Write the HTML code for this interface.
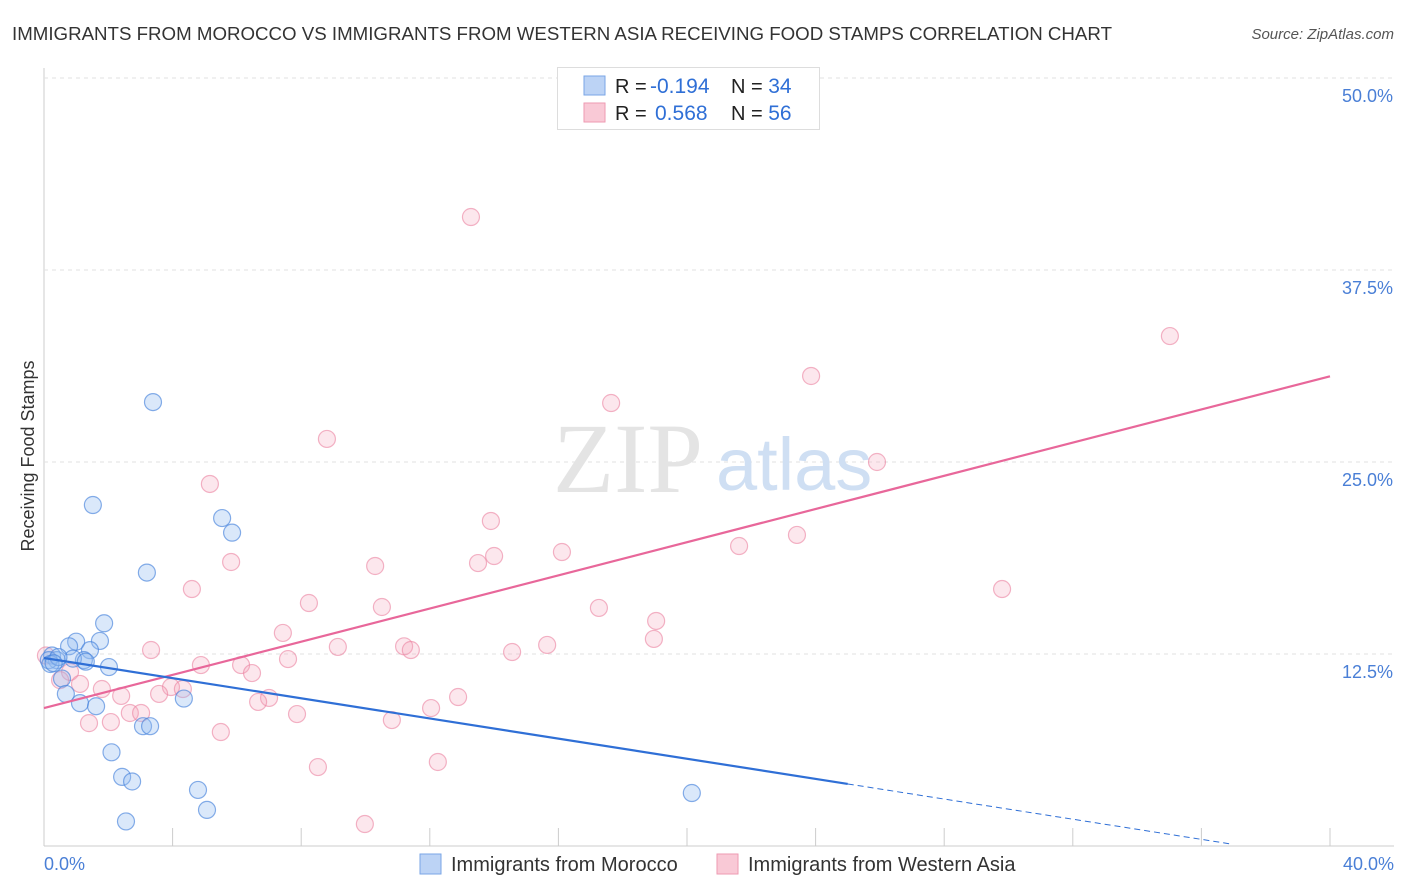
<!DOCTYPE html>
<html><head><meta charset="utf-8"><style>
body{margin:0;background:#fff;font-family:"Liberation Sans",sans-serif;}
svg{display:block}
</style></head><body>
<svg id="c" width="1406" height="892">
<text x="12" y="40" font-size="18" fill="#333" textLength="1100" lengthAdjust="spacingAndGlyphs">IMMIGRANTS FROM MOROCCO VS IMMIGRANTS FROM WESTERN ASIA RECEIVING FOOD STAMPS CORRELATION CHART</text>
<text x="1394" y="39" font-size="15" fill="#555" font-style="italic" text-anchor="end">Source: ZipAtlas.com</text>
<text x="0" y="0" font-size="18" fill="#333" text-anchor="middle" transform="translate(34,456) rotate(-90)">Receiving Food Stamps</text>
<g id="grid"></g>
<text x="553" y="492" font-size="100" fill="#e4e4e4" font-family="Liberation Serif,serif">ZIP</text>
<text x="716" y="490" font-size="74" fill="#cfdff3">atlas</text>
<g id="pts"></g>
<g id="lines"></g>
<g>
<rect x="557.5" y="67.5" width="262" height="62" fill="#fff" stroke="#ddd"/>
<rect x="584" y="76" width="21" height="19" fill="#bcd3f5" stroke="#7aa6e6"/>
<rect x="584" y="103" width="21" height="19" fill="#f9c9d6" stroke="#ee9ab2"/>
<text x="615" y="93" font-size="20" fill="#222">R = <tspan fill="#2f6fd6" x="650" font-size="21">-0.194</tspan><tspan x="731">N = </tspan><tspan fill="#2f6fd6" font-size="21">34</tspan></text>
<text x="615" y="120" font-size="20" fill="#222">R = <tspan fill="#2f6fd6" x="655" font-size="21">0.568</tspan><tspan x="731">N = </tspan><tspan fill="#2f6fd6" font-size="21">56</tspan></text>
</g>
<text x="44" y="870" font-size="18" fill="#4a7fd6">0.0%</text>
<text x="1394" y="870" font-size="18" fill="#4a7fd6" text-anchor="end">40.0%</text>
<g>
<rect x="420" y="854" width="21" height="20" fill="#bcd3f5" stroke="#7aa6e6"/>
<text x="451" y="871" font-size="20" fill="#333">Immigrants from Morocco</text>
<rect x="717" y="854" width="21" height="20" fill="#f9c9d6" stroke="#ee9ab2"/>
<text x="748" y="871" font-size="20" fill="#333">Immigrants from Western Asia</text>
</g>
</svg>
<script>
const yTicks=[12.5,25,37.5,50];
const yTickLabels=["12.5%","25.0%","37.5%","50.0%"];
const xTicks=[0,4,8,12,16,20,24,28,32,36,40];
const moroccoX=[3.39,1.52,5.54,5.85,3.2,1.87,1.0,1.74,0.78,1.43,0.25,0.4,1.24,2.02,0.56,0.68,1.12,1.62,4.35,3.08,3.3,2.1,2.43,2.74,4.79,5.07,2.55,20.15,0.15,0.2,0.9,0.45,1.3,0.3];
const moroccoY=[28.9,22.2,21.35,20.4,17.8,14.5,13.3,13.35,13.0,12.75,12.4,12.1,12.1,11.65,10.9,9.9,9.3,9.1,9.6,7.8,7.8,6.1,4.5,4.2,3.65,2.35,1.6,3.45,12.1,11.85,12.2,12.3,12.0,11.9];
const asiaX=[13.28,35.02,23.86,17.64,8.8,25.91,5.16,13.9,23.42,21.62,16.11,14.0,13.5,5.82,10.3,4.6,29.8,8.24,10.51,17.26,19.04,7.43,18.97,15.65,9.14,11.2,11.41,3.33,14.56,7.59,0.06,4.88,6.13,6.47,0.81,0.5,1.12,3.95,4.32,1.8,3.58,2.4,7.0,6.66,12.88,12.04,2.67,3.02,7.87,1.4,2.08,10.82,5.5,8.52,12.25,9.98];
const asiaY=[40.95,33.2,30.6,28.84,26.5,25.0,23.57,21.16,20.25,19.53,19.14,18.88,18.42,18.49,18.23,16.73,16.73,15.82,15.56,15.5,14.65,13.87,13.48,13.09,12.96,13.0,12.76,12.76,12.63,12.17,12.4,11.78,11.78,11.26,11.33,10.8,10.55,10.35,10.22,10.22,9.9,9.77,9.64,9.38,9.7,8.98,8.66,8.66,8.59,8.0,8.07,8.2,7.42,5.14,5.47,1.43];
const moroccoTrend=[12.24,-0.328];
const asiaTrend=[8.98,0.54];
const X=v=>44+v*32.15, Y=v=>846-v*15.36;
const NS="http://www.w3.org/2000/svg";
function mk(t,a,p){const e=document.createElementNS(NS,t);for(const k in a)e.setAttribute(k,a[k]);p.appendChild(e);return e;}
const grid=document.getElementById('grid');
mk('line',{x1:44,y1:846,x2:1394,y2:846,stroke:'#ccc'},grid);
mk('line',{x1:44,y1:68,x2:44,y2:846,stroke:'#ccc'},grid);
xTicks.forEach(t=>{const l=mk('line',{x1:X(t),y1:828,x2:X(t),y2:846,stroke:'#ccc'},grid);

});
yTicks.forEach((t,i)=>{const l=mk('line',{x1:44,y1:Y(t),x2:1394,y2:Y(t),stroke:'#e2e2e2','stroke-dasharray':'4,4'},grid);


const tx=mk('text',{x:1393,y:Y(t)+24,'font-size':18,fill:'#4a7fd6','text-anchor':'end'},grid);tx.textContent=yTickLabels[i];

});
const pts=document.getElementById('pts');
asiaX.forEach((x,i)=>{const c=mk('circle',{cx:X(x),cy:Y(asiaY[i]),r:8.5,fill:'rgba(245,160,185,0.25)',stroke:'rgba(235,130,160,0.6)','stroke-width':1.2},pts);

});
moroccoX.forEach((x,i)=>{const c=mk('circle',{cx:X(x),cy:Y(moroccoY[i]),r:8.5,fill:'rgba(150,190,240,0.35)',stroke:'rgba(70,130,220,0.65)','stroke-width':1.2},pts);

});
const ln=document.getElementById('lines');
const f1=x=>moroccoTrend[0]+moroccoTrend[1]*x, f2=x=>asiaTrend[0]+asiaTrend[1]*x;
let a=mk('line',{x1:X(0),y1:Y(f2(0)),x2:X(40),y2:Y(f2(40)),stroke:'#e8679a','stroke-width':2.2},ln);


let b=mk('line',{x1:X(0),y1:Y(f1(0)),x2:X(25),y2:Y(f1(25)),stroke:'#2f6fd6','stroke-width':2.2},ln);


let d=mk('line',{x1:X(25),y1:Y(f1(25)),x2:X(36.9),y2:Y(f1(36.9)),stroke:'#2f6fd6','stroke-width':1,'stroke-dasharray':'6,4'},ln);


</script>
</body></html>
